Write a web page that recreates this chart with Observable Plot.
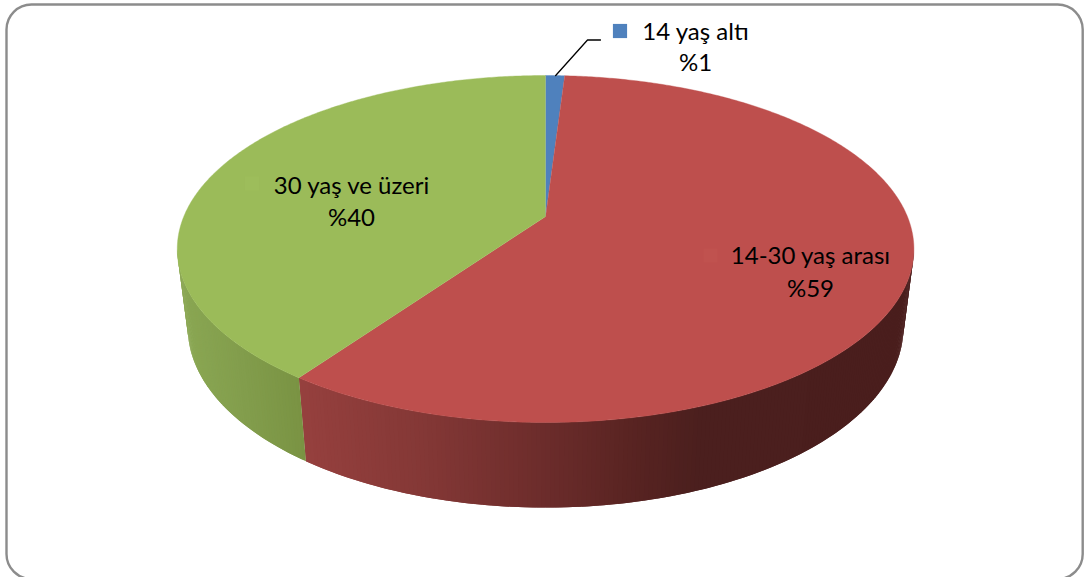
<!DOCTYPE html>
<html><head><meta charset="utf-8">
<style>html,body{margin:0;padding:0;background:#fff;overflow:hidden}svg{display:block}</style>
<script src="https://cdn.jsdelivr.net/npm/d3@7"></script>
<script src="https://cdn.jsdelivr.net/npm/@observablehq/plot@0.6"></script>
</head><body>
<script>
const categories = ["14 yaş altı", "14-30 yaş arası", "30 yaş ve üzeri"];
const values = [1, 58.8, 40.2];
const topColors = ["#4f81bd", "#be4f4d", "#9bbb59"];
const keyColors = ["#4f81bd", "#c0524f", "#9dbd5b"];
const labelX = [695, 810, 351];
const labelY = [32, 256, 186];
const lineGap = [31, 33, 32];
const keyX = [619.5, 710, 251.5];
const keyY = [30.5, 255, 183];
const wallStops = {
  "14-30 yaş arası": [[299, "#96403e"], [420, "#843836"], [545, "#6c2c2b"], [640, "#572321"], [700, "#4b1f1e"], [915, "#4a1e1d"]],
  "30 yaş ve üzeri": [[177, "#8aa753"], [240, "#829d4c"], [305, "#799242"]]
};

// Perspective model of the two discs (top and underside)
const C = -0.1873;
const topDisc = {A: 126.96, B: 216, D: 361.8};
const botDisc = {A: 118.8, B: 293.3, D: 351.5};
const cx = 545.1;
const project = (disc, deg) => {
  const a = deg * Math.PI / 180, u = Math.sin(a), v = -Math.cos(a), w = 1 + C * v;
  return {x: cx + disc.D * u / w, y: (disc.A * v + disc.B) / w};
};
const total = d3.sum(values);
let acc = 0;
const slices = categories.map((name, i) => {
  const start = acc / total * 360; acc += values[i];
  return {name, i, start, end: acc / total * 360};
});

// Top face polygons
const topPts = slices.flatMap(s => {
  const pts = [{x: cx, y: topDisc.B}];
  for (let d = s.start; d < s.end; d += 0.5) pts.push(project(topDisc, d));
  pts.push(project(topDisc, s.end));
  return pts.map(p => ({...p, id: s.name, color: topColors[s.i]}));
});

// Side wall: visible between the two rim tangents; strips overlap so no seams show
const visFrom = 100.8, visTo = 259.2, step = 0.6;
const wallPts = slices.flatMap(s => {
  const stops = wallStops[s.name];
  if (!stops) return [];
  const scale = d3.scaleLinear().domain(stops.map(d => d[0])).range(stops.map(d => d[1])).clamp(true);
  const lo = Math.max(s.start, visFrom), hi = Math.min(s.end, visTo), out = [];
  for (let d = lo; d < hi; d += step) {
    const e = Math.min(d + step * 2, hi);
    const a = project(topDisc, d), b = project(topDisc, Math.min(d + step, hi)), b2 = project(topDisc, e), c = project(botDisc, e), f = project(botDisc, d);
    const color = scale((a.x + b.x) / 2);
    [a, b2, c, f].forEach(p => out.push({...p, id: s.name + d, color}));
  }
  return out;
});

const labelRows = categories.flatMap((name, i) => [
  {t: name, x: labelX[i], y: labelY[i]},
  {t: "%" + Math.round(values[i]), x: labelX[i], y: labelY[i] + lineGap[i]}
]);
const keys = categories.map((name, i) => ({x: keyX[i], y: keyY[i], color: keyColors[i]}));
const leader = [{x: project(topDisc, 1.8).x + 0.5, y: 75}, {x: 587, y: 39.5}, {x: 600, y: 39.5}];

const chart = Plot.plot({
  width: 1086, height: 577, margin: 0,
  x: {domain: [0, 1086], range: [0, 1086], axis: null},
  y: {domain: [0, 577], range: [0, 577], axis: null},
  color: {type: "identity"},
  style: {background: "#fff"},
  marks: [
    Plot.rect([{}], {x1: () => 6.5, x2: () => 1082.7, y1: () => 4.5, y2: () => 579, rx: 25, fill: "#fff", stroke: "#8c8c8c", strokeWidth: 2.4}),
    Plot.line(wallPts, {x: "x", y: "y", z: "id", fill: "color", stroke: "none", curve: "linear"}),
    Plot.line(topPts, {x: "x", y: "y", z: "id", fill: "color", stroke: "color", strokeWidth: 0.4, curve: "linear"}),
    Plot.line(leader, {x: "x", y: "y", stroke: "#000", strokeWidth: 1.3, curve: "linear"}),
    Plot.dot(keys, {x: "x", y: "y", symbol: "square", r: 8, fill: "color", stroke: "none"}),
    Plot.text(labelRows, {x: "x", y: "y", text: "t", fontFamily: "Lato", fontSize: 24, fill: "#000", textAnchor: "middle", lineAnchor: "middle"})
  ]
});
document.body.appendChild(chart);
</script>
</body></html>
